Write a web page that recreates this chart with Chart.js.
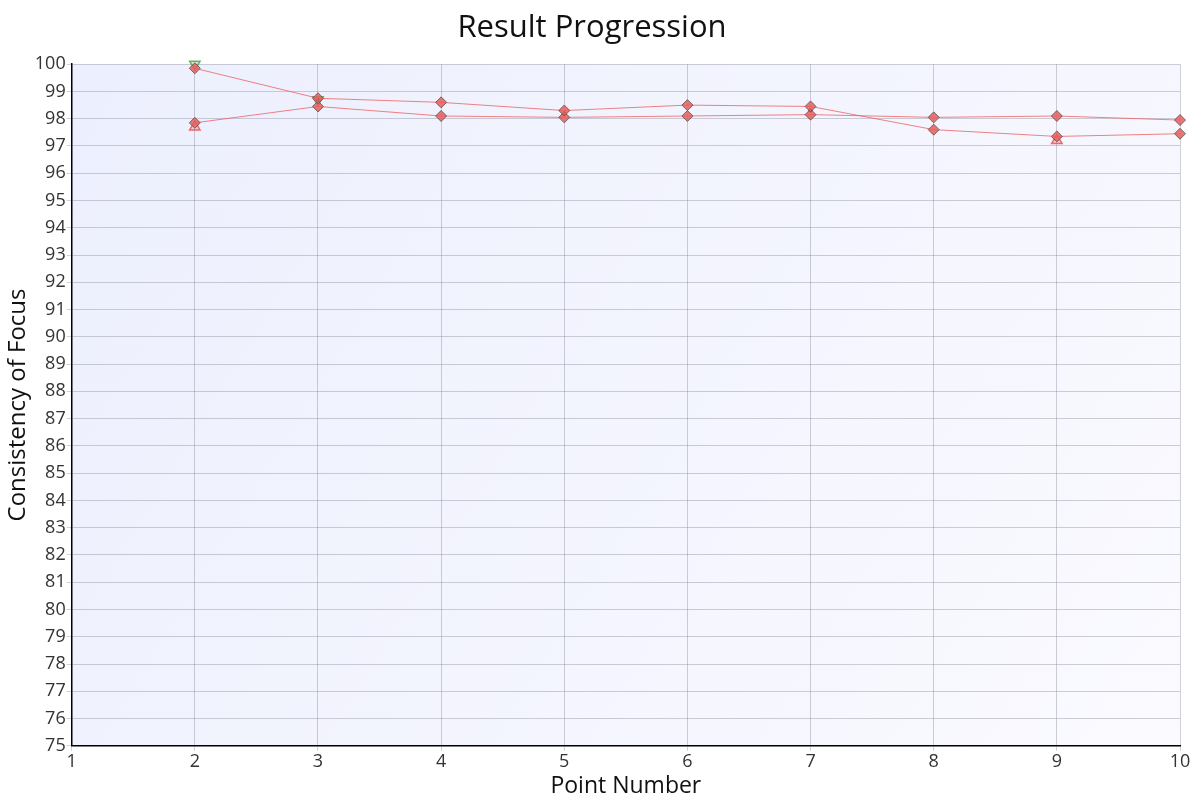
<!DOCTYPE html>
<html>
<head>
<meta charset="utf-8">
<script src="https://cdn.jsdelivr.net/npm/chart.js@4.4.1/dist/chart.umd.min.js"></script>
<style>
  html, body { margin: 0; padding: 0; background: #fff; }
  #wrap { width: 1200px; height: 800px; }
</style>
</head>
<body>
<div id="wrap"><canvas id="progressChart" width="1200" height="800"></canvas></div>
<script>
// point numbers and the two result series
const pointNumbers = [2, 3, 4, 5, 6, 7, 8, 9, 10];
const seriesA = [99.85, 98.75, 98.6, 98.3, 98.5, 98.45, 97.6, 97.35, 97.45];
const seriesB = [97.85, 98.45, 98.1, 98.05, 98.1, 98.15, 98.05, 98.1, 97.95];

// high / low markers
const highX = [2, 3];
const highY = [100, 98.7];
const lowX = [2, 9];
const lowY = [97.7, 97.2];
const dotX = [3, 5, 7];
const dotY = [98.7, 98.2, 98.3];

const yTicks = [];
for (let v = 75; v <= 100; v++) yTicks.push(v);

function toPoints(xs, ys) {
    return xs.map(function(x, i) { return { x: x, y: ys[i] }; });
}

const font = "'Open Sans', 'Noto Sans', sans-serif";

// soft gradient behind the plot area
const plotBackground = {
    id: 'plotBackground',
    beforeDraw: function(chart) {
        const a = chart.chartArea;
        const c = chart.ctx;
        const g = c.createLinearGradient(a.left, a.top, a.right, a.bottom);
        g.addColorStop(0, '#eceffd');
        g.addColorStop(1, '#fafaff');
        c.save();
        c.fillStyle = g;
        c.fillRect(a.left, a.top, a.right - a.left, a.bottom - a.top);
        c.restore();
    }
};

const lineStyle = {
    borderColor: 'rgba(235, 90, 90, 0.75)',
    borderWidth: 1,
    pointStyle: 'rectRot',
    pointRadius: 5.5,
    pointBackgroundColor: 'rgba(230, 95, 95, 0.85)',
    pointBorderColor: 'rgba(90, 80, 80, 0.8)',
    pointBorderWidth: 1,
    showLine: true,
    tension: 0,
    clip: false
};

const ctx = document.getElementById('progressChart').getContext('2d');

const progressChart = new Chart(ctx, {
    type: 'scatter',
    data: {
        datasets: [
            Object.assign({ label: 'Series A', data: toPoints(pointNumbers, seriesA) }, lineStyle),
            Object.assign({ label: 'Series B', data: toPoints(pointNumbers, seriesB) }, lineStyle),
            {
                label: 'High',
                data: toPoints(highX, highY),
                pointStyle: 'triangle',
                rotation: 180,
                pointRadius: 6,
                pointBackgroundColor: 'rgba(120, 190, 120, 0.35)',
                pointBorderColor: 'rgba(90, 170, 90, 0.9)',
                pointBorderWidth: 1.5,
                showLine: false,
                clip: false
            },
            {
                label: 'Low',
                data: toPoints(lowX, lowY),
                pointStyle: 'triangle',
                pointRadius: 6,
                pointBackgroundColor: 'rgba(240, 120, 120, 0.3)',
                pointBorderColor: 'rgba(235, 90, 90, 0.9)',
                pointBorderWidth: 1.5,
                showLine: false,
                clip: false
            },
            {
                label: 'Marks',
                data: toPoints(dotX, dotY),
                pointStyle: 'circle',
                pointRadius: 2,
                pointBackgroundColor: '#222',
                pointBorderWidth: 0,
                showLine: false
            }
        ]
    },
    options: {
        responsive: false,
        animation: false,
        layout: { padding: { left: 4, right: 20, top: 3, bottom: 0 } },
        scales: {
            x: {
                type: 'linear',
                min: 1,
                max: 10,
                ticks: {
                    stepSize: 1,
                    color: '#333',
                    font: { family: font, size: 18 },
                    padding: 0
                },
                grid: { color: 'rgba(120, 120, 140, 0.35)', tickLength: 5 },
                border: { color: '#000', width: 1.5 },
                title: {
                    display: true,
                    text: 'Point Number',
                    color: '#111',
                    font: { family: font, size: 23 },
                    padding: { top: 0, bottom: 0 }
                }
            },
            y: {
                min: 75,
                max: 100,
                afterBuildTicks: function(axis) {
                    axis.ticks = yTicks.map(function(v) { return { value: v }; });
                },
                ticks: {
                    color: '#333',
                    font: { family: font, size: 18 },
                    padding: 1
                },
                grid: { color: 'rgba(120, 120, 140, 0.35)', tickLength: 5 },
                border: { color: '#000', width: 1.5 },
                title: {
                    display: true,
                    text: 'Consistency of Focus',
                    color: '#111',
                    font: { family: font, size: 24 },
                    padding: { top: 0, bottom: 1 }
                }
            }
        },
        plugins: {
            legend: { display: false },
            tooltip: { enabled: false },
            title: {
                display: true,
                text: 'Result Progression',
                color: '#111',
                font: { family: font, size: 31, weight: 'normal' },
                padding: { top: 7, bottom: 17 }
            }
        }
    },
    plugins: [plotBackground]
});
</script>
</body>
</html>
